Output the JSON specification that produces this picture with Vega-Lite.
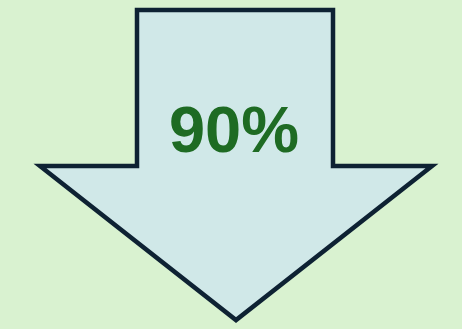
{
  "$schema": "https://vega.github.io/schema/vega-lite/v6.json",
  "width": 462,
  "height": 329,
  "autosize": {"type": "fit", "contains": "padding"},
  "padding": 0,
  "background": "#d9f2d0",
  "config": {"view": {"stroke": null}},
  "layer": [
    {
      "data": {"values": [
        {"i": 0, "x": 137, "y": 10},
        {"i": 1, "x": 333, "y": 10},
        {"i": 2, "x": 333, "y": 167},
        {"i": 3, "x": 432, "y": 167},
        {"i": 4, "x": 236, "y": 322},
        {"i": 5, "x": 40, "y": 167},
        {"i": 6, "x": 137, "y": 167},
        {"i": 7, "x": 137, "y": 10}
      ]},
      "mark": {"type": "line", "fill": "#d0e8e8", "stroke": "#0e2233", "strokeWidth": 4.5, "strokeJoin": "miter", "strokeCap": "square", "interpolate": "linear"},
      "encoding": {
        "x": {"field": "x", "type": "quantitative", "scale": {"domain": [0, 462], "nice": false, "zero": false}, "axis": null},
        "y": {"field": "y", "type": "quantitative", "scale": {"domain": [0, 329], "nice": false, "zero": false, "reverse": true}, "axis": null},
        "order": {"field": "i", "type": "quantitative"}
      }
    },
    {
      "data": {"values": [{"x": 234, "y": 153, "label": "90%"}]},
      "mark": {"type": "text", "font": "Liberation Sans", "fontWeight": "bold", "fontSize": 65, "color": "#1e6b23", "baseline": "alphabetic", "align": "center"},
      "encoding": {
        "x": {"field": "x", "type": "quantitative"},
        "y": {"field": "y", "type": "quantitative"},
        "text": {"field": "label"}
      }
    }
  ]
}
